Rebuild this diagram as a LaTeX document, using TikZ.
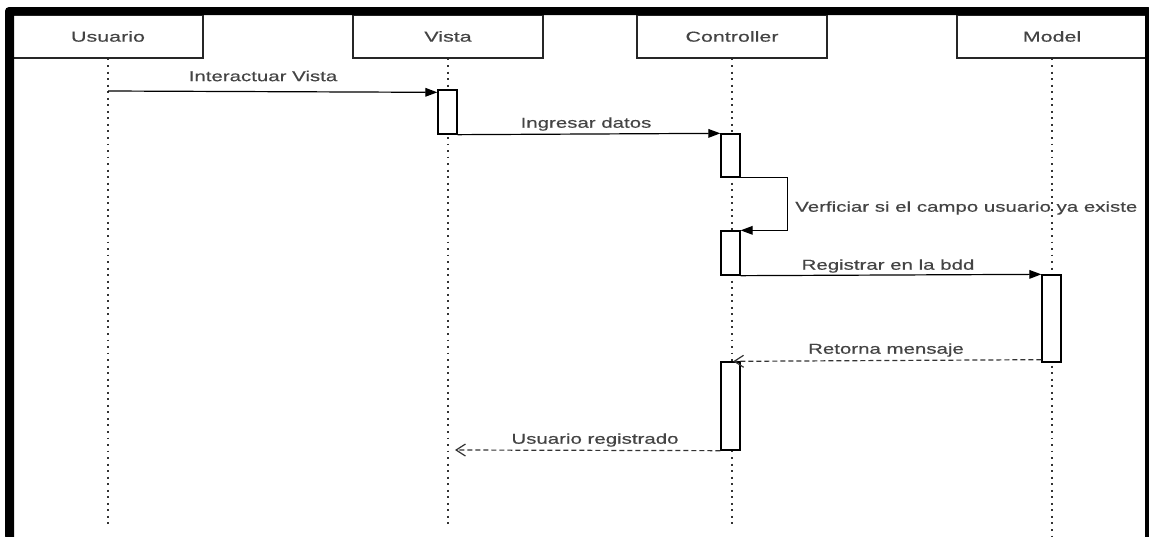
\documentclass[tikz,border=0pt]{standalone}
\usepackage{fontspec}
\usetikzlibrary{arrows.meta}
\newfontfamily\headfont[FakeStretch=1.49,FakeBold=0.4]{Liberation Sans}
\newfontfamily\msgfont[FakeStretch=1.42,FakeBold=0.4]{Liberation Sans}
\definecolor{txt}{HTML}{444444}
\begin{document}
\begin{tikzpicture}[x=0.75pt,y=-0.75pt,
  head/.style={draw=black!85,line width=0.9pt,minimum width=142.5pt,minimum height=32.25pt,
    inner sep=0pt,text=txt,font=\headfont\fontsize{10.8}{12}\selectfont},
  actbox/.style={draw=black,fill=white,line width=1pt,minimum width=14.25pt,inner sep=0pt},
  lifeline/.style={draw=black!80,line width=1.5pt,dash pattern=on 1.4pt off 3.5pt},
  call/.style={draw=black,line width=0.9pt,-{Triangle[length=9pt,width=6.5pt]}},
  reply/.style={draw=black!80,line width=0.9pt,dash pattern=on 3.75pt off 2.25pt,
    -{Straight Barb[length=7pt,width=9pt,line width=0.9pt]}},
  msg/.style={text=txt,inner sep=0pt,font=\msgfont\fontsize{10.8}{12}\selectfont}]
\useasboundingbox (0,0) rectangle (1149,536);
\fill[white] (0,0) rectangle (1149,536);

% participants
\node[head] (usuario) at (108,36.5) {Usuario};
\node[head] (vista) at (448,36.5) {Vista};
\node[head] (controller) at (732,36.5) {Controller};
\node[head] (model) at (1052,36.5) {Model};

% lifelines
\coordinate (uend) at (108,524);
\coordinate (vend) at (448,524);
\coordinate (cend) at (732,524);
\coordinate (mend) at (1052,536);
\draw[lifeline] (usuario.south) -- (uend);
\draw[lifeline] (vista.south) -- (vend);
\draw[lifeline] (controller.south) -- (cend);
\draw[lifeline] (model.south) -- (mend);

% activation bars
\node[actbox,minimum height=33pt] (v1) at (447.5,112) {};
\node[actbox,minimum height=32.25pt] (c1) at (730.5,155.5) {};
\node[actbox,minimum height=33pt] (c2) at (730.5,253) {};
\node[actbox,minimum height=65.25pt] (m1) at (1051.5,318.5) {};
\node[actbox,minimum height=66pt] (c3) at (730.5,406) {};

% messages
\coordinate (m1from) at (108,91);
\draw[call] (m1from) -- ([yshift=-2.25pt]v1.north west);
\node[msg] (l1) at (263,76) {Interactuar Vista};

\draw[call] (v1.south east) -- (c1.north west);
\node[msg] (l2) at (586,124) {Ingresar datos};

\draw[call] (c1.south east) -- ++(47,0) |- (c2.north east);
\node[msg,anchor=west] (l3) at (795,208) {Verficiar si el campo usuario ya existe};

\draw[call] (c2.south east) -- (m1.north west);
\node[msg] (l4) at (888,266) {Registrar en la bdd};

\draw[reply] ([yshift=2.25pt]m1.south west) -- ([xshift=2pt]c3.north);
\node[msg] (l5) at (886,350) {Retorna mensaje};

\coordinate (m6to) at (455,450);
\draw[reply] (c3.south west) -- (m6to);
\node[msg] (l6) at (595,440) {Usuario registrado};

% frame
\fill[black,even odd rule,rounded corners=3pt]
  (5,540) -- (5,7) -- (1152,7) -- (1152,540) -- cycle
  [sharp corners] (14,15) rectangle (1145,541);
\end{tikzpicture}
\end{document}
